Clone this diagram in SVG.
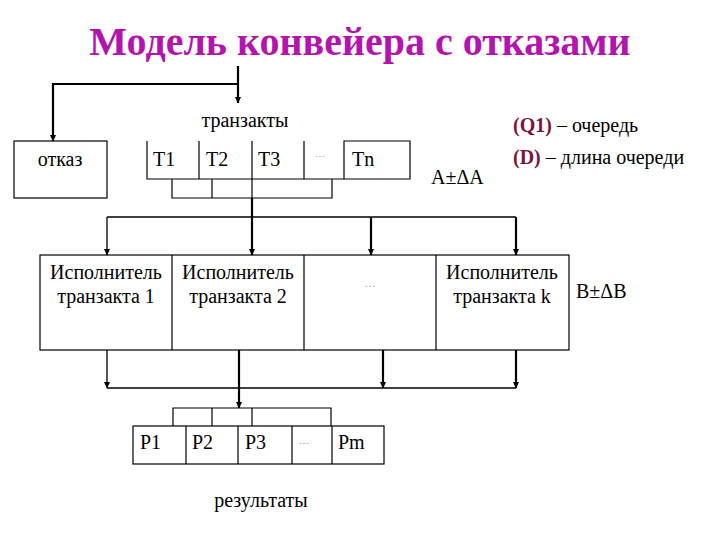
<svg xmlns="http://www.w3.org/2000/svg" width="720" height="540" viewBox="0 0 720 540" font-family="Liberation Serif">
<style>
text{font-family:'Liberation Serif',serif;fill:#000}
.t{font-size:20px}
.ttl{font-size:40px;font-weight:bold;fill:#B414AE}
.dots{font-size:11px;fill:#999}
.q{fill:#7A1440;font-weight:bold}
.box{fill:#fff;stroke:#000;stroke-width:1.2}
.ln{fill:none;stroke:#000;stroke-width:1.2}
.c{fill:none;stroke:#000;stroke-width:1.3}
.ck{fill:none;stroke:#000;stroke-width:2.2}
</style>
<defs>
<marker id="ah" markerUnits="userSpaceOnUse" markerWidth="7" markerHeight="7" refX="6" refY="3.5" orient="auto">
<path d="M0,0.5 L6.5,3.5 L0,6.5 z" fill="#000"/>
</marker>
</defs>
<rect width="720" height="540" fill="#fff"/>
<text class="ttl" x="360" y="55" text-anchor="middle">Модель конвейера с отказами</text>

<g id="node-otkaz">
<rect class="box" x="14" y="141" width="93" height="57"/>
<text class="t" x="60" y="166" text-anchor="middle">отказ</text>
</g>

<g id="node-transacts">
<text class="t" x="245" y="127" text-anchor="middle">транзакты</text>
<path class="ln" d="M147,141 V179 H410 V141 H344 V179 M199,141 V179 M252,141 V179 M304,141 V179"/>
<text class="t" x="153" y="166">T1</text>
<text class="t" x="206" y="166">T2</text>
<text class="t" x="258" y="166">T3</text>
<text class="dots" x="320" y="157" text-anchor="middle">…</text>
<text class="t" x="352" y="166">Tn</text>
</g>

<g id="node-executors">
<rect class="box" x="40" y="255" width="529" height="95"/>
<path class="ln" d="M172,255 V350 M304,255 V350 M436,255 V350"/>
<text class="t" x="106" y="279" text-anchor="middle">Исполнитель</text>
<text class="t" x="106" y="303" text-anchor="middle">транзакта 1</text>
<text class="t" x="238" y="279" text-anchor="middle">Исполнитель</text>
<text class="t" x="238" y="303" text-anchor="middle">транзакта 2</text>
<text class="dots" x="370" y="287" text-anchor="middle">…</text>
<text class="t" x="502" y="279" text-anchor="middle">Исполнитель</text>
<text class="t" x="502" y="303" text-anchor="middle">транзакта k</text>
</g>

<g id="node-results">
<rect class="box" x="133" y="426" width="251" height="38"/>
<path class="ln" d="M186,426 V464 M238,426 V464 M292,426 V464 M332,426 V464"/>
<text class="t" x="140" y="449">P1</text>
<text class="t" x="192" y="449">P2</text>
<text class="t" x="245" y="449">P3</text>
<text class="dots" x="304" y="444" text-anchor="middle">…</text>
<text class="t" x="338" y="449">Pm</text>
<text class="t" x="261" y="507" text-anchor="middle">результаты</text>
</g>

<g id="labels">
<text class="t" x="431" y="184">A±ΔA</text>
<text class="t" x="576" y="298">B±ΔB</text>
<text class="t" x="513" y="132"><tspan class="q">(Q1)</tspan> – очередь</text>
<text class="t" x="513" y="164"><tspan class="q">(D)</tspan> – длина очереди</text>
</g>

<g id="connectors">
<path class="ck" d="M238,66 V103" marker-end="url(#ah)"/>
<path class="ck" d="M238,84 H53 V141" marker-end="url(#ah)"/>
<path class="ln" d="M172,179 V198 H332 V179 M212,179 V198"/>
<path class="c" d="M107,217 H516"/>
<path class="c" d="M107,217 V255" marker-end="url(#ah)"/>
<path class="ln" d="M252,179 V198"/>
<path class="ck" d="M252,198 V255" marker-end="url(#ah)"/>
<path class="ck" d="M371,217 V255" marker-end="url(#ah)"/>
<path class="ck" d="M516,217 V255" marker-end="url(#ah)"/>
<path class="c" d="M107,388 H516"/>
<path class="c" d="M107,350 V388" marker-end="url(#ah)"/>
<path class="ck" d="M383,350 V388" marker-end="url(#ah)"/>
<path class="ck" d="M516,350 V388" marker-end="url(#ah)"/>
<path class="ck" d="M239,350 V408" marker-end="url(#ah)"/>
<path class="ln" d="M173,426 V408 H331 V426 M212,408 V426 M252,408 V426"/>
</g>
</svg>
